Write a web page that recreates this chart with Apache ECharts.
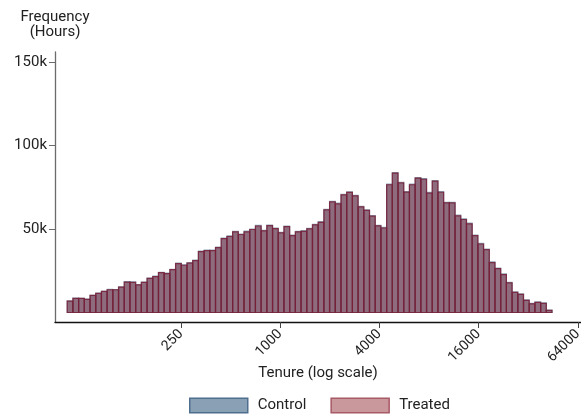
<!DOCTYPE html>
<html>
<head>
<meta charset="utf-8">
<script src="https://cdn.jsdelivr.net/npm/echarts@6/dist/echarts.min.js"></script>
<style>
  html, body { margin: 0; padding: 0; background: #fff; }
  #chart { width: 581px; height: 419px; }
</style>
</head>
<body>
<div id="chart"></div>
<script>
// Hours by tenure, histogram on log-width bins (natural-log bin width below)
const binFirstEdge = 51;        // tenure at the lower edge of the first bin
const binLogWidth = 0.0797;     // width of each bin in ln(tenure)

const treatedHours = [
  6800, 8500, 8500, 7900, 10200, 11400, 12600, 13600, 13600, 15200,
  18200, 18000, 16500, 18000, 20400, 21500, 23900, 23300, 25700, 29300,
  28300, 29500, 31100, 36400, 37000, 37000, 38800, 44200, 45500, 48300,
  46700, 48300, 49700, 51800, 48900, 52000, 50200, 47700, 51400, 46000,
  48300, 48600, 50100, 52500, 54000, 61400, 66200, 65100, 70400, 71900,
  69800, 63200, 61100, 57700, 51900, 50600, 76500, 83500, 77600, 72100,
  76500, 80500, 79800, 71500, 78700, 72000, 65600, 65600, 57900, 55700,
  53100, 46000, 41000, 37600, 29900, 26300, 22700, 17700, 12000, 10800,
  7300, 5200, 6100, 5500, 1300
];

const controlHours = [
  6900, 8600, 8400, 8000, 10300, 11600, 12700, 13800, 13700, 15400,
  18500, 18300, 16700, 18200, 20600, 21800, 24100, 23600, 25900, 29600,
  28600, 29800, 31400, 36800, 37300, 37400, 39100, 44500, 45900, 48600,
  47000, 48700, 50000, 52200, 49200, 52400, 50500, 48000, 51700, 46300,
  48600, 49000, 50400, 52800, 54400, 61800, 66500, 65500, 70800, 72300,
  70100, 63600, 61500, 58000, 52200, 51000, 76900, 83800, 78000, 72400,
  76900, 80800, 80200, 71900, 79000, 72400, 66000, 65900, 58300, 56100,
  53500, 46400, 41400, 38000, 30300, 26600, 23100, 18000, 12300, 11100,
  7600, 5500, 6300, 5700, 1500
];

const xTickLabels = [250, 1000, 4000, 16000, 64000];
const yTickValues = [50000, 100000, 150000];

// x axis runs in log2(tenure); each datum is [lowerEdge, upperEdge, hours]
function toBins(values) {
  const start = Math.log(binFirstEdge);
  return values.map((v, i) => [
    (start + i * binLogWidth) / Math.LN2,
    (start + (i + 1) * binLogWidth) / Math.LN2,
    v
  ]);
}

function barRenderer(fill, stroke, lineWidth) {
  return function (params, api) {
    const top = api.coord([api.value(0), api.value(2)]);
    const base = api.coord([api.value(1), 0]);
    return {
      type: 'rect',
      shape: { x: top[0], y: top[1], width: base[0] - top[0], height: base[1] - top[1] },
      style: { fill: fill, stroke: stroke, lineWidth: lineWidth }
    };
  };
}

const font = 'Roboto';
const chart = echarts.init(document.getElementById('chart'), null, { renderer: 'canvas' });

chart.setOption({
  animation: false,
  backgroundColor: '#ffffff',
  textStyle: { fontFamily: font },
  grid: { left: 55, right: 0, top: 52, bottom: 97, containLabel: false, outerBoundsMode: 'none' },
  legend: {
    left: 189,
    top: 397.5,
    padding: 0,
    icon: 'rect',
    itemWidth: 58,
    itemHeight: 14.5,
    itemGap: 24,
    textStyle: { fontFamily: font, fontSize: 15, color: '#222', padding: [0, 0, 0, 5] },
    data: [
      { name: 'Control', itemStyle: { color: '#8aa0b5', borderColor: '#4f6f8f', borderWidth: 1.5 } },
      { name: 'Treated', itemStyle: { color: '#c9989c', borderColor: '#a85a66', borderWidth: 1.5 } }
    ]
  },
  xAxis: {
    type: 'value',
    min: Math.log2(43),
    max: 16.03,
    name: 'Tenure (log scale)',
    nameLocation: 'middle',
    nameGap: 44,
    nameMoveOverlap: false,
    nameTextStyle: { fontFamily: font, fontSize: 15, color: '#222' },
    axisLine: { show: true, onZero: false, lineStyle: { color: '#111', width: 1.3 } },
    axisTick: { show: true, length: 6, customValues: xTickLabels.map(Math.log2), lineStyle: { color: '#444' } },
    axisLabel: {
      customValues: xTickLabels.map(Math.log2),
      rotate: 45,
      margin: 10,
      fontFamily: font,
      fontSize: 14,
      color: '#222',
      formatter: v => String(Math.round(Math.pow(2, v)))
    },
    splitLine: { show: false }
  },
  yAxis: {
    type: 'value',
    min: -5700,
    max: 156000,
    name: 'Frequency\n(Hours)',
    nameLocation: 'end',
    nameGap: 12,
    nameMoveOverlap: false,
    nameTextStyle: { fontFamily: font, fontSize: 15, lineHeight: 15, color: '#222', align: 'center' },
    axisLine: { show: true, onZero: false, lineStyle: { color: '#6b6b6b', width: 1.3 } },
    axisTick: { show: true, length: 6, customValues: yTickValues, lineStyle: { color: '#6b6b6b' } },
    axisLabel: {
      customValues: yTickValues,
      margin: 8,
      fontFamily: font,
      fontSize: 15,
      color: '#222',
      formatter: v => (v / 1000) + 'k'
    },
    splitLine: { show: false }
  },
  series: [
    {
      name: 'Control',
      type: 'custom',
      itemStyle: { color: '#8aa0b5' },
      renderItem: barRenderer('rgba(74,104,140,0.35)', 'rgba(79,111,143,0.6)', 1.2),
      encode: { x: [0, 1], y: 2 },
      data: toBins(controlHours)
    },
    {
      name: 'Treated',
      type: 'custom',
      itemStyle: { color: '#c9989c' },
      renderItem: barRenderer('rgba(110,45,65,0.6)', 'rgba(120,30,55,0.85)', 1.2),
      encode: { x: [0, 1], y: 2 },
      data: toBins(treatedHours)
    }
  ]
});
</script>
</body>
</html>
